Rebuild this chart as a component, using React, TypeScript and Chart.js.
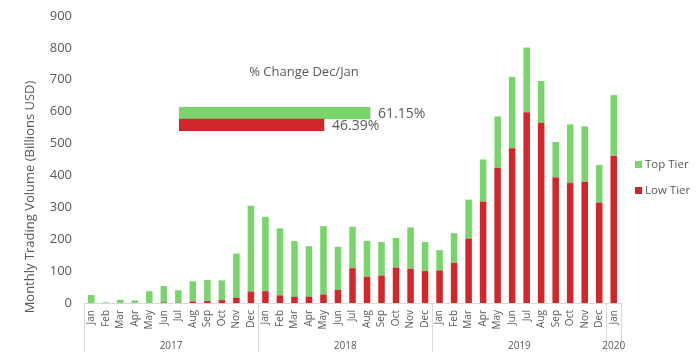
import React, { useEffect, useRef } from "react";
import { Chart, registerables } from "chart.js";

Chart.register(...registerables);

const months = [
  "Jan","Feb","Mar","Apr","May","Jun","Jul","Aug","Sep","Oct","Nov","Dec",
  "Jan","Feb","Mar","Apr","May","Jun","Jul","Aug","Sep","Oct","Nov","Dec",
  "Jan","Feb","Mar","Apr","May","Jun","Jul","Aug","Sep","Oct","Nov","Dec",
  "Jan",
];
const monthYears = [
  "2017","2017","2017","2017","2017","2017","2017","2017","2017","2017","2017","2017",
  "2018","2018","2018","2018","2018","2018","2018","2018","2018","2018","2018","2018",
  "2019","2019","2019","2019","2019","2019","2019","2019","2019","2019","2019","2019",
  "2020",
];
const lowTier = [
  0, 0, 0, 0, 0, 2, 1, 5, 6, 9, 17, 36,
  37, 24, 20, 20, 27, 41, 109, 82, 86, 111, 107, 100,
  102, 126, 202, 318, 424, 485, 598, 565, 394, 376, 380, 315,
  462,
];
const topTier = [
  25, 2, 10, 8, 37, 51, 39, 63, 66, 62, 138, 269,
  233, 210, 174, 158, 214, 135, 130, 113, 105, 93, 130, 91,
  64, 93, 122, 132, 161, 224, 203, 131, 111, 184, 174, 118,
  190,
];
const yTicks = [0, 100, 200, 300, 400, 500, 600, 700, 800, 900];
const changeLabels = ["Top Tier", "Low Tier"];
const changeValues = [61.15, 46.39];

const GREEN = "#79D46C";
const RED = "#D2262B";
const TEXT = "#595959";
const FONT = "'Open Sans', sans-serif";
const AXIS = "#D9D9D9";

const yearPlugin = {
  id: "yearGroups",
  afterDraw(chart: any) {
    const ctx = chart.ctx;
    const xs = chart.scales.x;
    const area = chart.chartArea;
    const step = xs.getPixelForValue(1) - xs.getPixelForValue(0);
    const half = step / 2;
    const bottom = 352;
    ctx.save();
    ctx.strokeStyle = AXIS;
    ctx.lineWidth = 1;
    const bounds: number[] = [0];
    for (let i = 1; i < monthYears.length; i++) {
      if (monthYears[i] !== monthYears[i - 1]) bounds.push(i);
    }
    bounds.push(monthYears.length);
    bounds.forEach((b) => {
      const x = Math.round(xs.getPixelForValue(b) - half) + 0.5;
      ctx.beginPath();
      ctx.moveTo(x, area.bottom);
      ctx.lineTo(x, bottom);
      ctx.stroke();
    });
    ctx.fillStyle = TEXT;
    ctx.font = `10px ${FONT}`;
    ctx.textAlign = "center";
    ctx.textBaseline = "middle";
    for (let k = 0; k < bounds.length - 1; k++) {
      const a = xs.getPixelForValue(bounds[k]) - half;
      const c = xs.getPixelForValue(bounds[k + 1]) - half;
      ctx.fillText(monthYears[bounds[k]], (a + c) / 2, 346);
    }
    // y-axis title
    ctx.save();
    ctx.translate(30, 197);
    ctx.rotate(-Math.PI / 2);
    ctx.font = `13px ${FONT}`;
    ctx.fillStyle = TEXT;
    ctx.fillText("Monthly Trading Volume (Billions USD)", 0, 0);
    ctx.restore();
    // legend
    const items = [
      { label: chart.data.datasets[1].label, color: chart.data.datasets[1].backgroundColor, y: 165 },
      { label: chart.data.datasets[0].label, color: chart.data.datasets[0].backgroundColor, y: 191 },
    ];
    ctx.font = `11.5px ${FONT}`;
    ctx.textAlign = "left";
    items.forEach((it) => {
      ctx.fillStyle = it.color;
      ctx.fillRect(635, it.y - 4, 7, 7);
      ctx.fillStyle = TEXT;
      ctx.fillText(it.label, 645, it.y);
    });
    ctx.restore();
  },
};

const insetPlugin = {
  id: "insetLabels",
  afterDraw(chart: any) {
    const ctx = chart.ctx;
    ctx.save();
    ctx.fillStyle = TEXT;
    ctx.font = `13px ${FONT}`;
    ctx.textAlign = "center";
    ctx.textBaseline = "middle";
    ctx.fillText("% Change Dec/Jan", 125, 12);
    ctx.font = `14px ${FONT}`;
    ctx.textAlign = "left";
    const meta = chart.getDatasetMeta(0);
    meta.data.forEach((bar: any, i: number) => {
      const v = chart.data.datasets[0].data[i];
      ctx.fillText(v.toFixed(2) + "%", bar.x + 8, bar.y + 1);
    });
    ctx.restore();
  },
};

export default function App() {
  const mainRef = useRef<HTMLCanvasElement>(null);
  const insetRef = useRef<HTMLCanvasElement>(null);

  useEffect(() => {
    const main = new Chart(mainRef.current!, {
      type: "bar",
      data: {
        labels: months,
        datasets: [
          { label: "Low Tier", data: lowTier, backgroundColor: RED, barPercentage: 0.45, categoryPercentage: 1 },
          { label: "Top Tier", data: topTier, backgroundColor: GREEN, barPercentage: 0.45, categoryPercentage: 1 },
        ],
      },
      options: {
        responsive: false,
        animation: false,
        layout: { padding: { top: 16, right: 78, left: 0, bottom: 0 } },
        plugins: { legend: { display: false }, tooltip: { enabled: false }, title: { display: false } },
        scales: {
          x: {
            stacked: true,
            grid: { display: false, drawTicks: false },
            border: { display: true, color: AXIS },
            ticks: {
              autoSkip: false,
              maxRotation: 90,
              minRotation: 90,
              padding: 7,
              color: TEXT,
              font: { family: FONT, size: 10 },
            },
            afterFit: (s: any) => { s.height = 58; s.paddingLeft = 0; s.paddingRight = 0; },
          },
          y: {
            stacked: true,
            min: 0,
            max: 900,
            grid: { display: false, drawTicks: false },
            border: { display: false },
            afterBuildTicks: (s: any) => { s.ticks = yTicks.map((v) => ({ value: v })); },
            ticks: {
              padding: 12,
              color: TEXT,
              font: { family: FONT, size: 13 },
            },
            afterFit: (s: any) => { s.width = 84; s.paddingTop = 0; s.paddingBottom = 0; },
          },
        },
      },
      plugins: [yearPlugin],
    });

    const inset = new Chart(insetRef.current!, {
      type: "bar",
      data: {
        labels: changeLabels,
        datasets: [
          { data: changeValues, backgroundColor: [GREEN, RED], barPercentage: 1, categoryPercentage: 1 },
        ],
      },
      options: {
        indexAxis: "y",
        responsive: false,
        animation: false,
        layout: { padding: { top: 47, bottom: 9, left: 0, right: 0 } },
        plugins: { legend: { display: false }, tooltip: { enabled: false } },
        scales: {
          x: { display: false, min: 0, max: 80 },
          y: { display: false },
        },
      },
      plugins: [insetPlugin],
    });

    return () => {
      main.destroy();
      inset.destroy();
    };
  }, []);

  return (
    <div style={{ position: "absolute", left: 0, top: 0, width: 699, height: 361, background: "#fff", overflow: "hidden" }}>
      <canvas ref={mainRef} width={699} height={361} style={{ position: "absolute", left: 0, top: 0 }} />
      <canvas ref={insetRef} width={250} height={80} style={{ position: "absolute", left: 179, top: 60 }} />
    </div>
  );
}
